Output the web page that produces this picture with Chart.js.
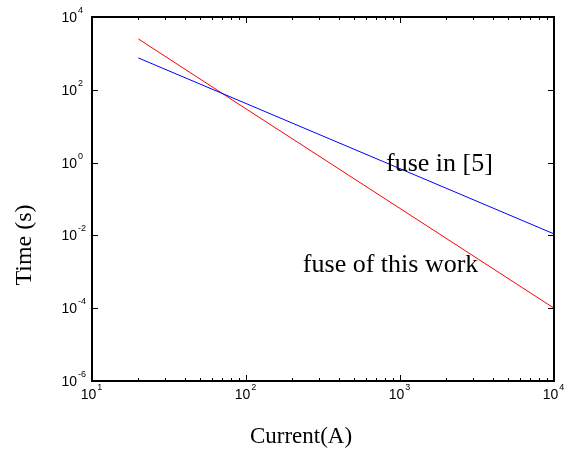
<!DOCTYPE html>
<html>
<head>
<meta charset="utf-8">
<script src="https://cdn.jsdelivr.net/npm/chart.js@4"></script>
<style>
  html, body { margin: 0; padding: 0; background: #fff; }
  #wrap { width: 565px; height: 454px; }
</style>
</head>
<body>
<div id="wrap"><canvas id="c" width="565" height="454"></canvas></div>
<script>
// fuse time-current curves, log-log
const currentA     = [20, 100, 1000, 10000];
const timeRef5     = [750, 42, 0.68, 0.011];
const timeThisWork = [2500, 30, 0.055, 0.0001];

const xTickExp = [1, 2, 3, 4];
const yTickExp = [-6, -4, -2, 0, 2, 4];

// text labels placed in data coordinates (left edge, baseline)
const noteText = ["fuse in [5]", "fuse of this work"];
const noteX    = [811, 234];
const noteY    = [0.59, 0.001];

const SERIF = "'Liberation Serif', 'Times New Roman', serif";
const SANS  = "'Liberation Sans', Arial, sans-serif";

function pts(xs, ys) { return xs.map((x, i) => ({x: x, y: ys[i]})); }

function powLabel(ctx, x, y, exp, align) {
  // "10" with superscript exponent
  ctx.font = "14px " + SANS;
  const base = "10";
  const bw = ctx.measureText(base).width;
  ctx.font = "9px " + SANS;
  const ew = ctx.measureText(String(exp)).width;
  let x0 = align === "center" ? x - (bw + ew) / 2 : x - bw;
  ctx.font = "14px " + SANS;
  ctx.fillText(base, x0, y);
  ctx.font = "9px " + SANS;
  ctx.fillText(String(exp), x0 + bw + 1, y - 9);
}

const axesPlugin = {
  id: "matlabAxes",
  afterDatasetsDraw(chart) {
    const ctx = chart.ctx;
    const xs = chart.scales.x, ys = chart.scales.y;
    const a = chart.chartArea;
    ctx.save();
    ctx.strokeStyle = "#000";
    ctx.fillStyle = "#000";

    // ticks inward on all sides
    ctx.lineWidth = 1;
    ctx.beginPath();
    for (let e = 1; e <= 4; e++) {
      for (let m = 1; m <= 9; m++) {
        if (e === 4 && m > 1) break;
        const px = Math.round(xs.getPixelForValue(m * Math.pow(10, e))) + 0.5;
        const len = m === 1 ? 6 : 3;
        ctx.moveTo(px, a.bottom); ctx.lineTo(px, a.bottom - len);
        ctx.moveTo(px, a.top); ctx.lineTo(px, a.top + len);
      }
    }
    yTickExp.forEach(e => {
      const py = Math.round(ys.getPixelForValue(Math.pow(10, e))) + 0.5;
      ctx.moveTo(a.left, py); ctx.lineTo(a.left + 6, py);
      ctx.moveTo(a.right, py); ctx.lineTo(a.right - 6, py);
    });
    ctx.stroke();

    // box
    ctx.lineWidth = 2;
    ctx.strokeRect(Math.round(a.left), Math.round(a.top),
                   Math.round(a.right - a.left), Math.round(a.bottom - a.top));

    // tick labels
    ctx.textBaseline = "alphabetic";
    ctx.textAlign = "left";
    xTickExp.forEach(e => {
      powLabel(ctx, xs.getPixelForValue(Math.pow(10, e)) - 1, a.bottom + 18, e, "center");
    });
    yTickExp.forEach(e => {
      powLabel(ctx, a.left - 15, ys.getPixelForValue(Math.pow(10, e)) + 5, e, "right");
    });

    // axis titles
    ctx.font = "23px " + SERIF;
    ctx.textAlign = "center";
    ctx.fillText("Current(A)", 301, 443);
    ctx.save();
    ctx.translate(31, 245);
    ctx.rotate(-Math.PI / 2);
    ctx.font = "24px " + SERIF;
    ctx.fillText("Time (s)", 0, 0);
    ctx.restore();

    // curve labels
    ctx.font = "26px " + SERIF;
    ctx.textAlign = "left";
    noteText.forEach((t, i) => {
      ctx.fillText(t, xs.getPixelForValue(noteX[i]), ys.getPixelForValue(noteY[i]));
    });
    ctx.restore();
  }
};

new Chart(document.getElementById("c").getContext("2d"), {
  type: "scatter",
  data: {
    datasets: [
      { label: "fuse in [5]", data: pts(currentA, timeRef5), showLine: true,
        borderColor: "#0000ff", borderWidth: 1, pointRadius: 0, tension: 0 },
      { label: "fuse of this work", data: pts(currentA, timeThisWork), showLine: true,
        borderColor: "#ff0000", borderWidth: 1, pointRadius: 0, tension: 0 }
    ]
  },
  options: {
    responsive: false,
    animation: false,
    layout: { padding: { top: 17, right: 11, left: 0, bottom: 0 } },
    plugins: { legend: { display: false }, tooltip: { enabled: false } },
    scales: {
      x: {
        type: "logarithmic", min: 10, max: 10000,
        grid: { display: false }, border: { display: false },
        ticks: { display: false },
        afterFit: s => { s.height = 73; }
      },
      y: {
        type: "logarithmic", min: 1e-6, max: 1e4,
        grid: { display: false }, border: { display: false },
        ticks: { display: false },
        afterFit: s => { s.width = 92; }
      }
    }
  },
  plugins: [axesPlugin]
});
</script>
</body>
</html>
